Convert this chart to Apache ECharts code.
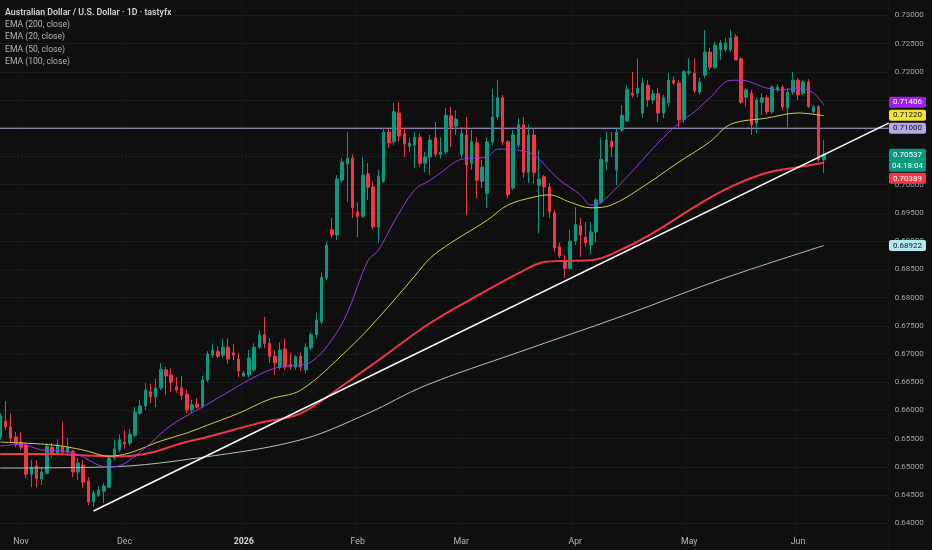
<!DOCTYPE html>
<html>
<head>
<meta charset="utf-8">
<script src="https://cdn.jsdelivr.net/npm/echarts@6/dist/echarts.min.js"></script>
<style>
html,body{margin:0;padding:0;background:#0f0f0f;}
#c{width:932px;height:550px;}
</style>
</head>
<body>
<div id="c"></div>
<script>
// ---------- DATA ----------
const titleText = 'Australian Dollar / U.S. Dollar · 1D · tastyfx';
const legendLines = ['EMA (200, close)', 'EMA (20, close)', 'EMA (50, close)', 'EMA (100, close)'];
const firstDate = '2025-10-28';
const slotCount = 172;
const monthNames = ['Jan','Feb','Mar','Apr','May','Jun','Jul','Aug','Sep','Oct','Nov','Dec'];

// [open, close, low, high]
const candles = [
[.6553,.6590,.6548,.6595],[.6581,.6571,.6565,.6617],[.6571,.6551,.6544,.6595],[.6553,.6542,.6535,.6562],[.6544,.6535,.6530,.6562],
[.6539,.6487,.6480,.6542],[.6487,.6500,.6464,.6512],[.6502,.6479,.6464,.6512],[.6479,.6491,.6468,.6500],[.6489,.6537,.6487,.6542],
[.6535,.6525,.6516,.6542],[.6523,.6539,.6521,.6549],[.6535,.6526,.6523,.6580],[.6526,.6535,.6523,.6551],[.6528,.6491,.6482,.6530],
[.6491,.6507,.6477,.6516],[.6503,.6473,.6463,.6512],[.6475,.6438,.6432,.6482],[.6438,.6454,.6429,.6459],[.6450,.6459,.6447,.6466],
[.6457,.6466,.6436,.6471],[.6464,.6516,.6463,.6521],[.6516,.6532,.6512,.6548],[.6530,.6548,.6526,.6558],[.6544,.6541,.6532,.6565],
[.6542,.6558,.6537,.6567],[.6556,.6597,.6553,.6606],[.6595,.6608,.6592,.6619],[.6608,.6636,.6601,.6649],[.6633,.6624,.6613,.6647],
[.6624,.6640,.6606,.6656],[.6640,.6673,.6636,.6684],[.6672,.6661,.6627,.6677],[.6663,.6650,.6633,.6675],[.6642,.6636,.6631,.6659],
[.6640,.6626,.6619,.6661],[.6629,.6601,.6595,.6636],[.6601,.6610,.6595,.6619],[.6611,.6606,.6603,.6622],[.6608,.6654,.6604,.6661],
[.6654,.6700,.6650,.6705],[.6698,.6707,.6693,.6718],[.6705,.6696,.6693,.6714],[.6698,.6712,.6693,.6727],[.6712,.6691,.6682,.6728],
[.6702,.6698,.6689,.6718],[.6691,.6670,.6659,.6702],[.6661,.6666,.6659,.6670],[.6663,.6693,.6659,.6707],[.6672,.6712,.6668,.6719],
[.6712,.6734,.6709,.6742],[.6734,.6719,.6711,.6766],[.6719,.6696,.6684,.6728],[.6696,.6684,.6663,.6707],[.6677,.6707,.6672,.6721],
[.6709,.6677,.6672,.6727],[.6682,.6677,.6672,.6702],[.6677,.6695,.6672,.6698],[.6696,.6677,.6670,.6703],[.6672,.6712,.6666,.6719],
[.6711,.6734,.6707,.6739],[.6734,.6760,.6728,.6774],[.6757,.6836,.6753,.6845],[.6835,.6893,.6831,.6898],[.6920,.6911,.6906,.6941],
[.6911,.7010,.6902,.7017],[.7008,.7040,.7003,.7047],[.7037,.7047,.6969,.7093],[.7047,.6959,.6941,.7053],[.6952,.6944,.6907,.6969],
[.6944,.7017,.6941,.7049],[.7019,.6996,.6973,.7038],[.6996,.6925,.6920,.7005],[.6925,.7015,.6897,.7026],[.7006,.7093,.7003,.7100],
[.7093,.7074,.7065,.7100],[.7076,.7129,.7070,.7145],[.7127,.7086,.7076,.7146],[.7090,.7072,.7049,.7100],[.7068,.7074,.7058,.7083],
[.7070,.7084,.7029,.7093],[.7084,.7038,.7031,.7090],[.7038,.7049,.7022,.7058],[.7049,.7079,.7017,.7088],[.7083,.7054,.7049,.7111],
[.7053,.7058,.7047,.7084],[.7058,.7123,.7053,.7136],[.7122,.7102,.7067,.7138],[.7104,.7116,.7088,.7132],[.7053,.7091,.7047,.7102],
[.7088,.7035,.6946,.7120],[.7037,.7076,.7026,.7097],[.7074,.7008,.6976,.7084],[.7006,.7031,.6994,.7044],[.6985,.7076,.6959,.7083],
[.7076,.7120,.7070,.7169],[.7120,.7154,.7115,.7185],[.7154,.7076,.7070,.7159],[.7076,.6982,.6976,.7079],[.6994,.7088,.6991,.7097],
[.7070,.7106,.7065,.7118],[.7106,.7022,.7012,.7120],[.7022,.7088,.7003,.7107],[.7088,.7021,.7003,.7100],[.6999,.7010,.6914,.7061],
[.7014,.6996,.6943,.7017],[.6996,.6952,.6941,.7003],[.6950,.6888,.6881,.6955],[.6890,.6874,.6870,.6897],[.6866,.6852,.6835,.6875],
[.6852,.6900,.6849,.6920],[.6900,.6929,.6893,.6960],[.6927,.6911,.6872,.6941],[.6907,.6897,.6890,.6934],[.6893,.6916,.6877,.6934],
[.6916,.6973,.6898,.6976],[.6969,.7045,.6966,.7084],[.7040,.7079,.7026,.7093],[.7077,.7067,.7049,.7093],[.7026,.7093,.6999,.7100],
[.7097,.7123,.7093,.7141],[.7113,.7169,.7111,.7176],[.7162,.7159,.7154,.7200],[.7162,.7171,.7155,.7224],[.7127,.7180,.7118,.7189],
[.7176,.7150,.7138,.7185],[.7150,.7161,.7143,.7168],[.7161,.7127,.7111,.7171],[.7127,.7154,.7118,.7159],[.7145,.7185,.7139,.7198],
[.7185,.7180,.7176,.7192],[.7180,.7115,.7102,.7185],[.7115,.7200,.7109,.7203],[.7198,.7200,.7194,.7224],[.7198,.7166,.7162,.7224],
[.7164,.7182,.7159,.7189],[.7194,.7235,.7189,.7274],[.7235,.7208,.7203,.7242],[.7208,.7247,.7205,.7253],[.7239,.7251,.7221,.7256],
[.7239,.7251,.7235,.7260],[.7239,.7260,.7235,.7274],[.7262,.7221,.7221,.7267],[.7223,.7146,.7143,.7226],[.7155,.7168,.7138,.7171],
[.7162,.7106,.7088,.7168],[.7109,.7150,.7091,.7155],[.7146,.7154,.7123,.7162],[.7154,.7129,.7125,.7159],[.7129,.7173,.7125,.7176],
[.7168,.7173,.7164,.7178],[.7173,.7138,.7132,.7176],[.7136,.7164,.7102,.7171],[.7164,.7185,.7159,.7200],[.7185,.7159,.7150,.7189],
[.7162,.7182,.7159,.7185],[.7182,.7138,.7136,.7187],[.7129,.7138,.7125,.7141],[.7138,.7044,.7040,.7141],[.7044,.70537,.7021,.7079]
];

// EMA readings [bar index, value]
const ema20 = [[0,.6537],[4,.6540],[8,.6530],[12,.6528],[15,.6522],[19,.6503],[21,.6500],[23,.6502],[26,.6519],[29,.6542],
[33,.6574],[39,.6606],[45,.6638],[49,.6659],[53,.6675],[56,.6679],[60,.6686],[64,.6725],[67,.6773],[71,.6866],[73,.6884],
[76,.6934],[80,.6991],[83,.7008],[85,.7021],[89,.7045],[94,.7049],[96,.7063],[100,.7061],[103,.7053],[106,.7026],[108,.7008],
[112,.6982],[114,.6964],[116,.6969],[121,.7014],[127,.7074],[131,.7109],[134,.7129],[137,.7154],[141,.7185],[143,.7185],
[148,.7171],[151,.7168],[154,.7171],[157,.7162],[159,.71406]];
const ema50 = [[0,.6544],[10,.6539],[16,.6530],[21,.6519],[25,.6525],[31,.6546],[36,.6560],[40,.6574],[46,.6595],[52,.6620],
[58,.6636],[67,.6707],[73,.6764],[80,.6838],[83,.6870],[87,.6897],[94,.6937],[98,.6964],[103,.6978],[106,.6982],[110,.6969],
[114,.6959],[118,.6964],[124,.6996],[131,.7040],[137,.7076],[141,.7107],[148,.7118],[154,.7127],[159,.71220]];
const ema100 = [[0,.6523],[10,.6523],[20,.6519],[24,.6519],[29,.6525],[35,.6542],[40,.6553],[50,.6578],[58,.6595],[67,.6650],
[73,.6689],[83,.6755],[94,.6813],[100,.6843],[105,.6863],[109,.6865],[114,.6866],[121,.6890],[127,.6920],[135,.6966],
[141,.6996],[148,.7021],[154,.7031],[159,.70389]];
const ema200 = [[0,.6498],[21,.6500],[39,.6517],[58,.6548],[71,.6595],[82,.6644],[100,.6703],[120,.6767],[140,.6835],[159,.68922]];

const trendLine = [[18,.6422],[171.5,.7109]];
const levelLine = 0.71;
const countdown = '04:18:04';
const yMin = 0.635, yMax = 0.735, yStep = 0.005;

// ---------- BUILD ----------
const cats = [], labelText = [];
{
  let d = new Date(firstDate + 'T00:00:00Z'), prevMonth = null;
  while (cats.length < slotCount) {
    const wd = d.getUTCDay();
    if (wd !== 0 && wd !== 6) {
      const m = d.getUTCMonth();
      cats.push(d.toISOString().slice(0,10));
      let t = '';
      if (prevMonth !== null && m !== prevMonth) t = m === 0 ? '{y|' + d.getUTCFullYear() + '}' : monthNames[m];
      labelText.push(t);
      prevMonth = m;
    }
    d = new Date(d.getTime() + 86400000);
  }
}
const lastPrice = candles[candles.length - 1][1];
const last = a => a[a.length - 1][1];
const xLo = -0.5, xHi = slotCount - 0.5;

const FONT = 'Roboto, "Noto Sans", "DejaVu Sans", sans-serif';
const C = {up:'#089981', down:'#f23645', e20:'#9c36e8', e50:'#d6cb48', e100:'#f23645', e200:'#a5c9c2', lvl:'#b3a9e6'};

const lineS = (name, data, color, width, z) => ({
  name, type:'line', data, showSymbol:false, smooth:0.35, z,
  lineStyle:{color, width}, itemStyle:{color}, silent:true, animation:false
});

const option = {
  backgroundColor:'#0f0f0f',
  animation:false,
  grid:{left:-2.3, top:-12.9, width:890.96, height:564.5, containLabel:false, outerBoundsMode:'none'},
  xAxis:[{
    type:'category', data:cats, boundaryGap:true,
    axisLine:{show:false}, axisTick:{show:false},
    splitLine:{show:true, interval:(i)=>!!labelText[i], lineStyle:{color:'#151515'}},
    axisLabel:{
      inside:true, margin:10, verticalAlign:'middle', color:'#b2b5be', fontSize:8.8, fontFamily:FONT,
      interval:(i)=>!!labelText[i], formatter:(v,i)=>labelText[i],
      rich:{y:{fontWeight:'bold', color:'#d1d4dc', fontSize:8.8, fontFamily:FONT}}
    }
  },{
    type:'value', min:xLo, max:xHi, show:false
  }],
  yAxis:{
    type:'value', position:'right', min:yMin, max:yMax, interval:yStep,
    axisLine:{show:false}, axisTick:{show:false},
    splitLine:{show:true, lineStyle:{color:'#1c1c1c'}},
    axisLabel:{color:'#a3a6af', fontSize:8, fontFamily:FONT, margin:6, showMinLabel:false, showMaxLabel:false,
      formatter:v=>v.toFixed(5)}
  },
  series:[
    {
      type:'candlestick', data:candles, barWidth:3, z:2,
      itemStyle:{color:C.up, color0:C.down, borderColor:C.up, borderColor0:C.down, borderWidth:1}
    },
    {type:'line', xAxisIndex:1, data:[[xLo,levelLine],[xHi,levelLine]], showSymbol:false, z:1, silent:true,
     lineStyle:{color:C.lvl, width:1, type:'solid'}, itemStyle:{color:C.lvl}},
    {type:'line', xAxisIndex:1, data:[[xLo,lastPrice],[xHi,lastPrice]], showSymbol:false, z:1, silent:true,
     lineStyle:{color:'#28453f', width:1, type:[1,3]}, itemStyle:{color:'#28453f'}},
    lineS('EMA200', ema200, C.e200, 1, 3),
    lineS('EMA100', ema100, C.e100, 2, 4),
    lineS('EMA50', ema50, C.e50, 1, 5),
    lineS('EMA20', ema20, C.e20, 1, 6),
    {type:'line', xAxisIndex:1, data:trendLine, showSymbol:false, z:7, silent:true,
     lineStyle:{color:'#ffffff', width:1.6}, itemStyle:{color:'#fff'}}
  ]
};

const chart = echarts.init(document.getElementById('c'));
chart.setOption(option);

// ---------- right-side price boxes & legend ----------
const g = [];
g.push({type:'text', x:5, y:13, z:100, style:{text:titleText, fill:'#d1d4dc', font:'600 8.8px ' + FONT, textAlign:'left', textVerticalAlign:'middle'}});
legendLines.forEach((t, k) => g.push({type:'text', x:5, y:25 + k * 12.3, z:100,
  style:{text:t, fill:'#b2b5be', font:'8.6px ' + FONT, textAlign:'left', textVerticalAlign:'middle'}}));

const py = v => chart.convertToPixel({yAxisIndex:0}, v);
const BX = 889, BW = 37, BH = 11, GAP = 2;
const box = (top, h, bg, fg, lines) => {
  g.push({type:'rect', z:100, shape:{x:BX, y:top, width:BW, height:h, r:2}, style:{fill:bg}});
  lines.forEach((t, k) => g.push({type:'text', z:101, x:BX + BW / 2, y:top + 5.7 + k * 11.5,
    style:{text:t, fill:fg, font:'8px ' + FONT, textAlign:'center', textVerticalAlign:'middle'}}));
};
const mainTop = py(lastPrice) - BH / 2, mainH = 23;
const items = [
  {v:last(ema20), bg:'#a020f0', fg:'#ffffff'},
  {v:last(ema50), bg:'#f2e33c', fg:'#131313'},
  {v:levelLine, bg:'#b3a9e6', fg:'#131313'},
  {v:last(ema100), bg:'#f23645', fg:'#ffffff'},
  {v:last(ema200), bg:'#b2ebf2', fg:'#131313'}
];
const above = items.filter(o => o.v > lastPrice).sort((a, b) => a.v - b.v);
let limit = mainTop - GAP;
above.forEach(o => { const t = Math.min(py(o.v) - BH / 2, limit - BH); o.top = t; limit = t - GAP; });
const below = items.filter(o => o.v <= lastPrice).sort((a, b) => b.v - a.v);
limit = mainTop + mainH + 1;
below.forEach(o => { const t = Math.max(py(o.v) - BH / 2, limit); o.top = t; limit = t + BH + GAP; });
items.forEach(o => box(o.top, BH, o.bg, o.fg, [o.v.toFixed(5)]));
box(mainTop, mainH, '#089981', '#ffffff', [lastPrice.toFixed(5), countdown]);

chart.setOption({graphic:{elements:g}});
</script>
</body>
</html>
